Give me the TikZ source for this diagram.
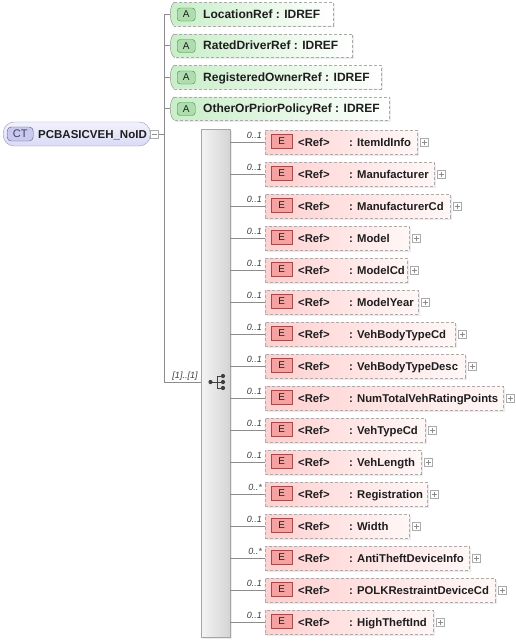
\documentclass[tikz,border=0pt]{standalone}
\usepackage{fontspec}
\setmainfont{Liberation Sans}
\usetikzlibrary{calc}
\definecolor{lineC}{HTML}{8C8C8C}
\definecolor{dashC}{HTML}{ABABAB}
\definecolor{ctTop}{HTML}{F2F2FE}
\definecolor{ctBot}{HTML}{DADAF6}
\definecolor{ctBorder}{HTML}{9A9AB8}
\definecolor{ctBadge}{HTML}{C9C9F0}
\definecolor{ctBadgeB}{HTML}{5A5A88}
\definecolor{elL}{HTML}{FFD0D0}
\definecolor{elR}{HTML}{FFF7F7}
\definecolor{eBadge}{HTML}{F4A2A2}
\definecolor{eBadgeB}{HTML}{A84848}
\definecolor{atL}{HTML}{C8EEC8}
\definecolor{atR}{HTML}{FFFFFF}
\definecolor{aBadge}{HTML}{AEDEAE}
\definecolor{aBadgeB}{HTML}{3F8A3F}
\definecolor{seqL}{HTML}{F4F4F4}
\definecolor{seqR}{HTML}{D4D4D4}
\definecolor{seqB}{HTML}{A6A6A6}
\definecolor{txt}{HTML}{1E1E1E}
\definecolor{iconC}{HTML}{404040}
\tikzset{
  conn/.style={draw=lineC, line width=0.8pt},
  elembox/.style={draw=dashC, dash pattern=on 3pt off 2pt, left color=elL, right color=elR,
    minimum height=24pt, inner sep=0pt, anchor=west,
    preaction={fill=black!8, transform canvas={xshift=1.5pt, yshift=-1.5pt}}},
  ebadge/.style={draw=eBadgeB, fill=eBadge, minimum width=21pt, minimum height=14pt, inner sep=0pt,
    font=\fontsize{10}{10}\selectfont, text=txt, anchor=west},
  etext/.style={font=\bfseries\fontsize{11.3}{13}\selectfont, text=txt, inner sep=0pt, anchor=base west},
  atext/.style={font=\bfseries\fontsize{12}{14}\selectfont, text=txt, inner sep=0pt, anchor=base west},
  mult/.style={font=\itshape\fontsize{9}{10}\selectfont, text=iconC, inner sep=0pt, anchor=base east},
  pmbox/.style={draw=dashC, fill=white, minimum width=8pt, minimum height=8pt, inner sep=0pt, anchor=west},
  pmsign/.style={draw=lineC, line width=0.6pt},
  attrbox/.style={minimum height=23pt, inner sep=0pt, anchor=west},
  abadge/.style={draw=aBadgeB, fill=aBadge, minimum width=18pt, minimum height=13pt, inner sep=0pt,
    rounded corners=3pt, font=\fontsize{10}{10}\selectfont, text=txt, anchor=west},
  ctbox/.style={draw=ctBorder, top color=ctTop, bottom color=ctBot, minimum width=147pt, minimum height=24pt,
    rounded corners=11pt, inner sep=0pt, anchor=west},
  ctbadge/.style={draw=ctBadgeB, fill=ctBadge, minimum width=26pt, minimum height=14pt, inner sep=0pt,
    rounded corners=4pt, font=\fontsize{11}{11}\selectfont, text=ctBadgeB!70!black, anchor=west},
  cttext/.style={font=\bfseries\fontsize{11.5}{14}\selectfont, text=txt, inner sep=0pt, anchor=base west},
  seqbox/.style={draw=seqB, left color=seqL, right color=seqR, minimum width=29pt, minimum height=508pt,
    inner sep=0pt, anchor=north west,
    preaction={fill=black!8, transform canvas={xshift=1.5pt, yshift=-1.5pt}}}
}
\begin{document}
\begin{tikzpicture}[x=1pt,y=-1pt]
\useasboundingbox[fill=white] (0,0) rectangle (515,641);

% complex type root
\node[ctbox] (ct) at (3,134) {};
\node[ctbadge] (ctb) at (7,134) {CT};
\node[cttext] (ctt) at (38,138) {PCBASICVEH\_NoID};
\node[pmbox, anchor=west] (mn) at (ct.east) {};
\draw[pmsign] ($(mn.center)+(-2.5,0)$) -- ($(mn.center)+(2.5,0)$);
\coordinate (tr) at (164,134);
\draw[conn] (mn.east) -- (tr);

% sequence compositor
\node[seqbox] (seq) at (201,129) {};
\coordinate (ic) at (216,382);
\begin{scope}[shift={(ic)}]
  \draw[iconC, line width=1pt] (-5.5,0) -- (1,0) (1,-6) -- (1,6) (1,-6) -- (7,-6) (1,0) -- (7,0) (1,6) -- (7,6);
  \fill[iconC] (-5.5,0) circle (2.1pt) (7,-6) circle (2.1pt) (7,0) circle (2.1pt) (7,6) circle (2.1pt);
\end{scope}
\draw[conn] (tr |- ic) -- (seq.west |- ic);
\node[mult, anchor=base] (card) at (185,378) {[1]..[1]};

% attributes
\foreach \nm/\rx [count=\i from 1] in {LocationRef/333, RatedDriverRef/352, RegisteredOwnerRef/381, OtherOrPriorPolicyRef/389}{
  \pgfmathsetmacro{\yc}{14+31.5*(\i-1)}
  \pgfmathsetmacro{\aw}{\rx-174}
  \node[attrbox, minimum width=\aw pt] (a\i) at (174,\yc) {};
  \path[fill=black!7, transform canvas={xshift=1.5pt, yshift=-1.5pt}] (a\i.north west) rectangle (a\i.south east);
  \path[left color=atL, right color=atR] (a\i.north west) -- (a\i.north east) -- (a\i.south east) -- (a\i.south west)
     .. controls ($(a\i.south west)+(-5,-4)$) and ($(a\i.north west)+(-5,4)$) .. (a\i.north west) -- cycle;
  \draw[dashC, dash pattern=on 3pt off 2pt] (a\i.north west) -- (a\i.north east) -- (a\i.south east) -- (a\i.south west);
  \draw[dashC!80!black] (a\i.south west) .. controls ($(a\i.south west)+(-5,-4)$) and ($(a\i.north west)+(-5,4)$) .. (a\i.north west);
  \node[abadge] (ab\i) at (177,\yc+0.5) {A};
  \node[atext] (at\i) at (203,\yc+4.2) {\nm\ : IDREF};
  \draw[conn] (tr |- a\i.west) -- ($(a\i.west)+(-3.8,0)$);
}
\draw[conn] (tr |- a1.west) -- (tr |- ic);

% elements
\foreach \nm/\rx/\mlt [count=\i from 0] in {ItemIdInfo/417/0..1, Manufacturer/434/0..1, ManufacturerCd/450/0..1,
   Model/409/0..1, ModelCd/407/0..1, ModelYear/418/0..1, VehBodyTypeCd/455/0..1, VehBodyTypeDesc/465/0..1,
   NumTotalVehRatingPoints/503/0..1, VehTypeCd/425/0..1, VehLength/421/0..1, Registration/427/0..*,
   Width/409/0..1, AntiTheftDeviceInfo/469/0..*, POLKRestraintDeviceCd/495/0..1, HighTheftInd/433/0..1}{
  \pgfmathsetmacro{\yc}{142+32*\i}
  \pgfmathsetmacro{\ew}{\rx-265}
  \node[elembox, minimum width=\ew pt] (e\i) at (265,\yc) {};
  \node[ebadge] (eb\i) at (271,\yc-0.5) {E};
  \node[etext] (er\i) at (298,\yc+4) {<Ref>};
  \node[etext] (en\i) at (349,\yc+4) {: \nm};
  \node[pmbox] (p\i) at ($(e\i.east)+(3,0)$) {};
  \draw[pmsign] ($(p\i.center)+(-2.5,0)$) -- ($(p\i.center)+(2.5,0)$) ($(p\i.center)+(0,-2.5)$) -- ($(p\i.center)+(0,2.5)$);
  \draw[conn] (seq.east |- e\i.west) -- (e\i.west);
  \node[mult] (m\i) at (262,\yc-4) {\mlt};
}
\end{tikzpicture}
\end{document}
